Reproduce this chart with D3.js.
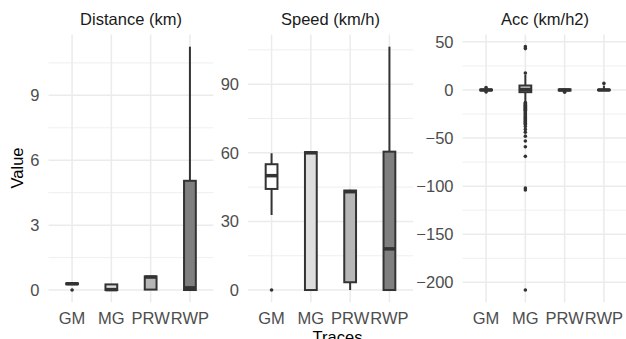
<!DOCTYPE html>
<html>
<head>
<meta charset="utf-8">
<script src="https://cdn.jsdelivr.net/npm/d3@7"></script>
<style>
body { margin: 0; background: #fff; }
text { font-family: "Liberation Sans", Arial, sans-serif; }
</style>
</head>
<body>
<script>
var traces = ['GM', 'MG', 'PRW', 'RWP'];
var fills = ['#FFFFFF', '#DEDEDE', '#B6B6B6', '#7F7F7F'];
var panelTitles = ['Distance (km)', 'Speed (km/h)', 'Acc (km/h2)'];

// box stats per trace: [lower whisker, q1, median, q3, upper whisker]
var distStats = [[0.25, 0.27, 0.29, 0.31, 0.33], [0, 0, 0.02, 0.26, 0.28],
                 [0, 0.02, 0.6, 0.63, 0.65], [0, 0, 0.1, 5.05, 11.25]];
var distOutliers = [[0], [], [], []];
var distTicks = [0, 3, 6, 9];
var distMinor = [1.5, 4.5, 7.5, 10.5];

var speedStats = [[32.8, 44.2, 50, 55, 59.8], [0, 0, 60, 60.3, 60.6],
                  [0, 3.4, 43, 43.5, 43.8], [0, 0, 18, 60.5, 106.4]];
var speedOutliers = [[0], [], [], []];
var speedTicks = [0, 30, 60, 90];
var speedMinor = [15, 45, 75, 105];

var accStats = [[-1.5, -0.4, 0, 0.4, 1.8], [-12.5, -2.3, 0.5, 4.6, 16],
                [-1.8, -0.6, 0, 0.6, 1.5], [-1, -0.3, 0, 0.3, 4.5]];
var accOutliers = [[2.5, -2], [45, 43, 17.6, -13, -14, -15, -16, -17, -18, -19, -20, -21, -22, -23,
                   -24, -25, -26, -27, -28, -29, -30, -31, -32, -33, -34, -35, -36, -38, -41, -44,
                   -48, -53, -59, -69, -102, -104, -208], [-2.3], [6.8]];
var accTicks = [50, 0, -50, -100, -150, -200];
var accMinor = [25, -25, -75, -125, -175];

var panels = [
  {title: panelTitles[0], stats: distStats, outliers: distOutliers, ticks: distTicks, minor: distMinor, x0: 48.5},
  {title: panelTitles[1], stats: speedStats, outliers: speedOutliers, ticks: speedTicks, minor: speedMinor, x0: 248},
  {title: panelTitles[2], stats: accStats, outliers: accOutliers, ticks: accTicks, minor: accMinor, x0: 462.5}
];

var panelW = 165;
var panelTop = 34.5, panelBottom = 302.2;
var boxW = 0.3;

var svg = d3.select('body').append('svg')
  .attr('width', 626)
  .attr('height', 339)
  .style('background', '#fff');

panels.forEach(function(p) {
  var x = d3.scalePoint()
    .domain(traces)
    .range([p.x0, p.x0 + panelW])
    .padding(0.6);
  var step = x.step();

  var all = [];
  p.stats.forEach(function(s) { all = all.concat(s); });
  p.outliers.forEach(function(o) { all = all.concat(o); });
  var ext = d3.extent(all);
  var pad = (ext[1] - ext[0]) * 0.05;
  var y = d3.scaleLinear()
    .domain([ext[0] - pad, ext[1] + pad])
    .range([panelBottom, panelTop]);

  var g = svg.append('g');

  // grid
  g.selectAll('.minor').data(p.minor).enter().append('line')
    .attr('x1', p.x0).attr('x2', p.x0 + panelW)
    .attr('y1', function(d) { return y(d); })
    .attr('y2', function(d) { return y(d); })
    .attr('stroke', '#EBEBEB').attr('stroke-width', 0.8);
  g.selectAll('.major').data(p.ticks).enter().append('line')
    .attr('x1', p.x0).attr('x2', p.x0 + panelW)
    .attr('y1', function(d) { return y(d); })
    .attr('y2', function(d) { return y(d); })
    .attr('stroke', '#EBEBEB').attr('stroke-width', 1.5);
  g.selectAll('.vgrid').data(traces).enter().append('line')
    .attr('x1', function(d) { return x(d); })
    .attr('x2', function(d) { return x(d); })
    .attr('y1', panelTop).attr('y2', panelBottom)
    .attr('stroke', '#EBEBEB').attr('stroke-width', 1.5);

  // y tick labels
  g.selectAll('.ytick').data(p.ticks).enter().append('text')
    .attr('x', p.x0 - 9)
    .attr('y', function(d) { return y(d); })
    .attr('dy', '0.36em')
    .attr('text-anchor', 'end')
    .attr('font-size', '16.5px')
    .attr('fill', '#4D4D4D')
    .text(d3.format('d'));

  // x tick labels
  g.selectAll('.xtick').data(traces).enter().append('text')
    .attr('x', function(d) { return x(d); })
    .attr('y', 323.5)
    .attr('text-anchor', 'middle')
    .attr('font-size', '16.5px')
    .attr('fill', '#4D4D4D')
    .text(function(d) { return d; });

  // strip title
  g.append('text')
    .attr('x', p.x0 + panelW / 2)
    .attr('y', 25)
    .attr('text-anchor', 'middle')
    .attr('font-size', '16.5px')
    .attr('fill', '#1A1A1A')
    .text(p.title);

  // boxes
  traces.forEach(function(t, i) {
    var s = p.stats[i];
    var cx = x(t);
    var hw = boxW * step / 2;
    g.append('line')
      .attr('x1', cx).attr('x2', cx)
      .attr('y1', y(s[0])).attr('y2', y(s[1]))
      .attr('stroke', '#333').attr('stroke-width', 2);
    g.append('line')
      .attr('x1', cx).attr('x2', cx)
      .attr('y1', y(s[3])).attr('y2', y(s[4]))
      .attr('stroke', '#333').attr('stroke-width', 2);
    g.append('rect')
      .attr('x', cx - hw)
      .attr('width', hw * 2)
      .attr('y', y(s[3]))
      .attr('height', y(s[1]) - y(s[3]))
      .attr('fill', fills[i])
      .attr('stroke', '#333').attr('stroke-width', 2);
    g.append('line')
      .attr('x1', cx - hw).attr('x2', cx + hw)
      .attr('y1', y(s[2])).attr('y2', y(s[2]))
      .attr('stroke', '#333').attr('stroke-width', 3.5);
    g.selectAll(null).data(p.outliers[i]).enter().append('circle')
      .attr('cx', cx)
      .attr('cy', function(d) { return y(d); })
      .attr('r', 1.8)
      .attr('fill', '#333');
  });
});

// axis titles
svg.append('text')
  .attr('transform', 'translate(23,168) rotate(-90)')
  .attr('text-anchor', 'middle')
  .attr('font-size', '16.5px')
  .attr('fill', '#000')
  .text('Value');

svg.append('text')
  .attr('x', 337.5)
  .attr('y', 343)
  .attr('text-anchor', 'middle')
  .attr('font-size', '16.5px')
  .attr('fill', '#000')
  .text('Traces');
</script>
</body>
</html>
